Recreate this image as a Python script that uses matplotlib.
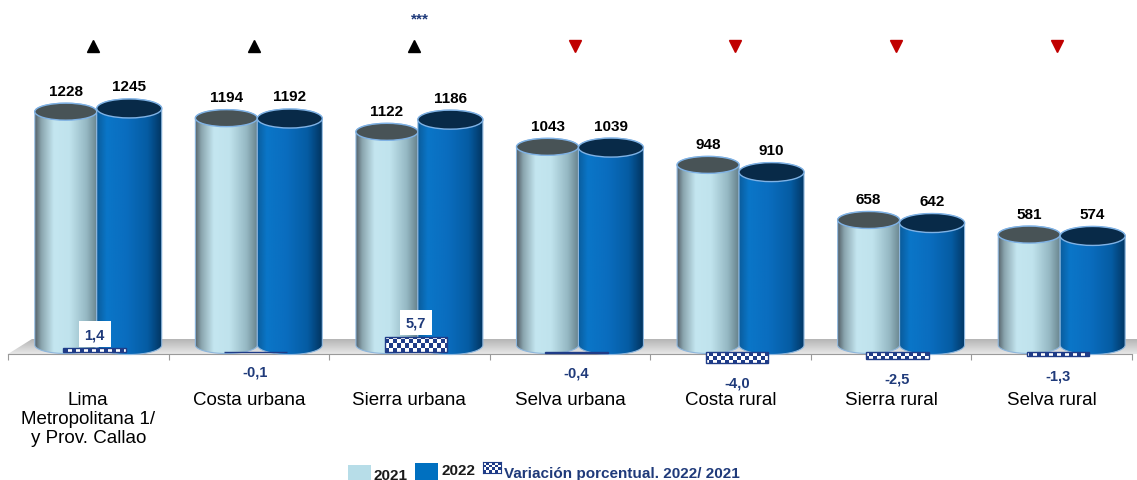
import numpy as np
import matplotlib
matplotlib.use("Agg")
import matplotlib.pyplot as plt
import matplotlib.transforms as mtransforms
from matplotlib.colors import LinearSegmentedColormap, ListedColormap
from matplotlib.patches import PathPatch, Ellipse, Rectangle, Polygon
from matplotlib.path import Path

plt.rcParams['font.family'] = ['Liberation Sans', 'DejaVu Sans']

# data
categories = ['Lima\nMetropolitana 1/\ny Prov. Callao', 'Costa urbana', 'Sierra urbana',
              'Selva urbana', 'Costa rural', 'Sierra rural', 'Selva rural']
v2021 = [1228, 1194, 1122, 1043, 948, 658, 581]
v2022 = [1245, 1192, 1186, 1039, 910, 642, 574]
var_pct = [1.4, -0.1, 5.7, -0.4, -4.0, -2.5, -1.3]
var_labels = ['1,4', '-0,1', '5,7', '-0,4', '-4,0', '-2,5', '-1,3']
trend = ['up', 'up', 'up', 'down', 'down', 'down', 'down']
signif = ['', '', '***', '', '', '', '']

NAVY = '#1f3a7a'
W, H = 1137, 481
fig = plt.figure(figsize=(W / 100, H / 100), dpi=100)
fig.patch.set_facecolor('white')
ax = fig.add_axes([0, 0, 1, 1])

# layout in pixels (from top-left)
X0_PX, STEP_PX = 8, 160.57
BASE_PX, SCALE = 346, 0.19
XLIM = (-0.5 - X0_PX / STEP_PX, -0.5 + (W - X0_PX) / STEP_PX)
YLIM = ((BASE_PX - H) / SCALE, BASE_PX / SCALE)


def dx(p):
    return XLIM[0] + p / STEP_PX


def dy(p):
    return (BASE_PX - p) / SCALE


light_cmap = LinearSegmentedColormap.from_list('light', [
    (0.0, '#55626a'), (0.1, '#8aa5ae'), (0.3, '#c4e6f0'), (0.55, '#c0e3ed'),
    (0.82, '#95b8c3'), (1.0, '#66818b')])
dark_cmap = LinearSegmentedColormap.from_list('dark', [
    (0.0, '#0a5c9c'), (0.15, '#0a76c8'), (0.45, '#0a6dbf'), (0.78, '#055ca3'),
    (1.0, '#023561')])


def cylinder(xc, half_w, val, b, cmap, top_col, z):
    t1 = np.linspace(np.pi, 2 * np.pi, 60)
    t2 = np.linspace(0, np.pi, 60)
    xs = np.concatenate([xc + half_w * np.cos(t1), xc + half_w * np.cos(t2)])
    ys = np.concatenate([b * np.sin(t1), val + b * np.sin(t2)])
    verts = np.column_stack([xs, ys])
    verts = np.vstack([verts, verts[:1]])
    body = PathPatch(Path(verts, closed=True), facecolor='none',
                     edgecolor='#8db6dd', lw=0.8, zorder=z + 0.1)
    ax.add_patch(body)
    grad = np.linspace(0, 1, 256).reshape(1, -1)
    im = ax.imshow(grad, cmap=cmap, extent=(xc - half_w, xc + half_w, -b, val + b),
                   aspect='auto', zorder=z, interpolation='bilinear')
    im.set_clip_path(body)
    ax.add_patch(Ellipse((xc, val), 2 * half_w, 2 * b, facecolor=top_col,
                         edgecolor='#7fb2e5', lw=1, zorder=z + 0.2))
    ax.annotate(str(val), (xc, val + b), xytext=(0, 4), textcoords='offset points',
                ha='center', va='bottom', fontsize=11, fontweight='bold',
                color='black', zorder=20)


# floor
floor = Polygon([(dx(8), dy(355)), (dx(32), dy(340)), (dx(W), dy(340)), (dx(W), dy(355))],
                closed=True, facecolor='none', edgecolor='none')
ax.add_patch(floor)
fgrad = np.linspace(0, 1, 64).reshape(-1, 1)
fim = ax.imshow(fgrad, cmap=LinearSegmentedColormap.from_list('floor', ['#e8e8e8', '#b5b5b5']),
                extent=(dx(8), dx(W), dy(355), dy(340)), origin='lower', aspect='auto',
                zorder=1, interpolation='bilinear')
fim.set_clip_path(floor)

x = np.arange(len(categories))
for i in x:
    cylinder(i - 0.14, 31 / STEP_PX, v2021[i], 8.5 / SCALE, light_cmap, '#485356', 10)
    cylinder(i + 0.255, 32.5 / STEP_PX, v2022[i], 9.5 / SCALE, dark_cmap, '#082a48', 10.5)

# trend markers
trans = mtransforms.blended_transform_factory(ax.transData, ax.transAxes)
for i, t in enumerate(trend):
    if t == 'up':
        ax.plot(i + 0.03, 1 - 47 / H, marker='^', color='black', markersize=8.5,
                transform=trans, zorder=20)
    else:
        ax.plot(i + 0.03, 1 - 47 / H, marker='v', color='#c00000', markersize=8.5,
                transform=trans, zorder=20)
    if signif[i]:
        ax.text(i + 0.065, 1 - 19 / H, signif[i], transform=trans, ha='center',
                va='center', fontsize=11, color=NAVY, fontweight='bold')

# axis
for s in ['top', 'left', 'right']:
    ax.spines[s].set_visible(False)
ax.spines['bottom'].set_position(('data', dy(355)))
ax.spines['bottom'].set_bounds(-0.5, 6.5)
ax.spines['bottom'].set_color('#9a9a9a')
ax.set_xticks(np.arange(-0.5, 7, 1))
ax.set_xticklabels([])
ax.tick_params(axis='x', which='major', length=4, color='#9a9a9a')
ax.set_xticks(x, minor=True)
ax.set_xticklabels(categories, minor=True, fontsize=13.5, color='black', linespacing=1.15)
ax.tick_params(axis='x', which='minor', length=0, pad=27)
ax.set_yticks([])
ax.set_xlim(XLIM)
ax.set_ylim(YLIM)

# variation bars
ax2 = ax.twinx()
ax2.set_ylim((353 - H) / 2.7, 353 / 2.7)
ax2.set_xlim(XLIM)
for s in ax2.spines.values():
    s.set_visible(False)
ax2.set_yticks([])
bars = ax2.bar(x + 0.04, var_pct, width=0.39, color='none', edgecolor='#1f3c88',
               lw=1, zorder=6)
checker = np.indices((H // 4, W // 4)).sum(axis=0) % 2
check_cmap = ListedColormap(['white', '#1f3c88'])
for bar in bars:
    cim = ax2.imshow(checker, cmap=check_cmap, extent=(*XLIM, *ax2.get_ylim()),
                     aspect='auto', interpolation='nearest', zorder=5)
    cim.set_clip_path(bar)
ax2.set_xlim(XLIM)
ax2.set_ylim((353 - H) / 2.7, 353 / 2.7)
for i, (v, lab) in enumerate(zip(var_pct, var_labels)):
    if v > 0:
        ax2.annotate(lab, (i + 0.04, v), xytext=(0, 5), textcoords='offset points',
                     ha='center', va='bottom', fontsize=10.5, fontweight='bold',
                     color=NAVY, zorder=20,
                     bbox=dict(boxstyle='square,pad=0.4', facecolor='white', edgecolor='none'))
    else:
        ax2.annotate(lab, (i + 0.04, v), xytext=(0, -9), textcoords='offset points',
                     ha='center', va='top', fontsize=10.5, fontweight='bold',
                     color=NAVY, zorder=20)

# legend (pixel positions)
pix = mtransforms.Affine2D().scale(1 / W, -1 / H).translate(0, 1) + fig.transFigure
fig.patches.append(Rectangle((348, 466), 23, 20, transform=pix, facecolor='#b7dde8',
                             edgecolor='none'))
fig.text(373, 476, '2021', transform=pix, va='center', ha='left', fontsize=11,
         fontweight='bold', color='#1a1a1a')
fig.patches.append(Rectangle((415, 464), 23, 20, transform=pix, facecolor='#0070c0',
                             edgecolor='none'))
fig.text(442, 471, '2022', transform=pix, va='center', ha='left', fontsize=11,
         fontweight='bold', color='#1a1a1a')
lax = fig.add_axes([483 / W, 1 - 474 / H, 18 / W, 11 / H])
lax.imshow(np.indices((4, 6)).sum(axis=0) % 2, cmap=check_cmap, aspect='auto',
           interpolation='nearest')
lax.set_xticks([])
lax.set_yticks([])
for s in lax.spines.values():
    s.set_color('#1f3c88')
fig.text(504, 474, 'Variación porcentual. 2022/ 2021', transform=pix, va='center',
         ha='left', fontsize=11, fontweight='bold', color=NAVY)

fig.savefig('out.png', dpi=100, facecolor='white')
